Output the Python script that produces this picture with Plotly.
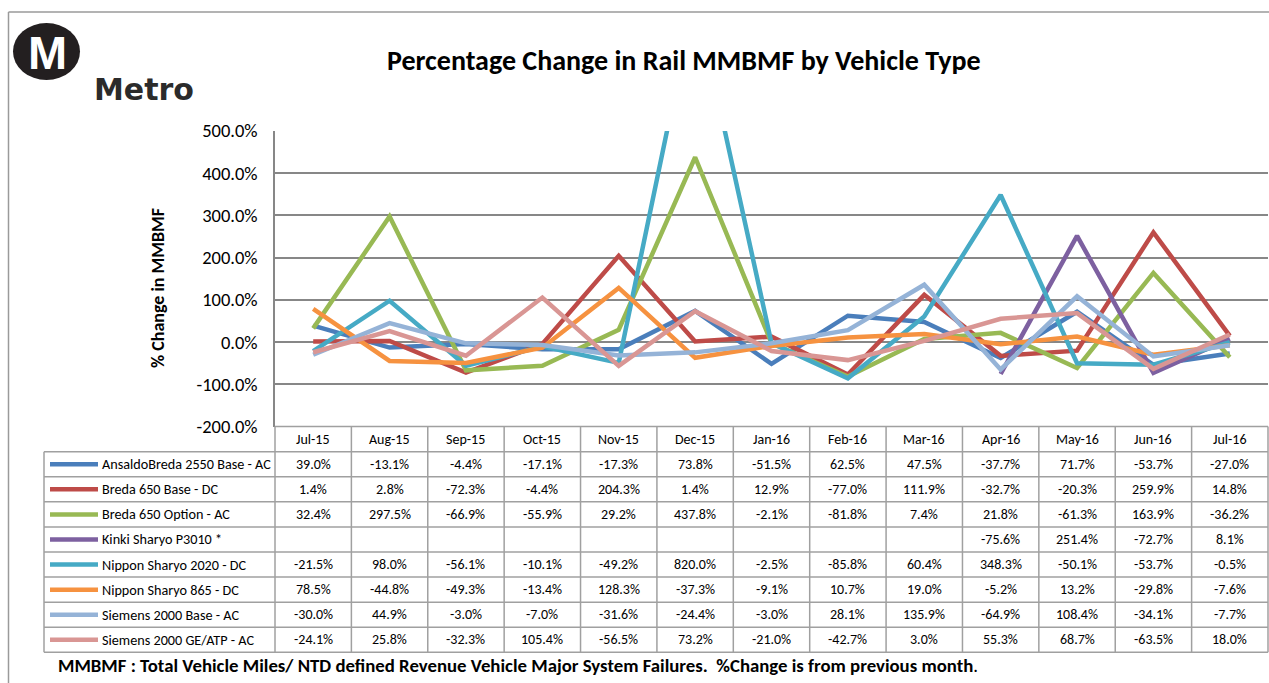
import plotly.graph_objects as go

# ---------------- data ----------------
months = ["Jul-15", "Aug-15", "Sep-15", "Oct-15", "Nov-15", "Dec-15", "Jan-16",
          "Feb-16", "Mar-16", "Apr-16", "May-16", "Jun-16", "Jul-16"]

series_names = ["AnsaldoBreda 2550 Base - AC", "Breda 650 Base - DC", "Breda 650 Option - AC",
                "Kinki Sharyo P3010 *", "Nippon Sharyo 2020 - DC", "Nippon Sharyo 865 - DC",
                "Siemens 2000 Base - AC", "Siemens 2000 GE/ATP - AC"]

ansaldo_2550 = [39.0, -13.1, -4.4, -17.1, -17.3, 73.8, -51.5, 62.5, 47.5, -37.7, 71.7, -53.7, -27.0]
breda_650_base = [1.4, 2.8, -72.3, -4.4, 204.3, 1.4, 12.9, -77.0, 111.9, -32.7, -20.3, 259.9, 14.8]
breda_650_option = [32.4, 297.5, -66.9, -55.9, 29.2, 437.8, -2.1, -81.8, 7.4, 21.8, -61.3, 163.9, -36.2]
kinki_p3010 = [None, None, None, None, None, None, None, None, None, -75.6, 251.4, -72.7, 8.1]
nippon_2020 = [-21.5, 98.0, -56.1, -10.1, -49.2, 820.0, -2.5, -85.8, 60.4, 348.3, -50.1, -53.7, -0.5]
nippon_865 = [78.5, -44.8, -49.3, -13.4, 128.3, -37.3, -9.1, 10.7, 19.0, -5.2, 13.2, -29.8, -7.6]
siemens_base = [-30.0, 44.9, -3.0, -7.0, -31.6, -24.4, -3.0, 28.1, 135.9, -64.9, 108.4, -34.1, -7.7]
siemens_ge_atp = [-24.1, 25.8, -32.3, 105.4, -56.5, 73.2, -21.0, -42.7, 3.0, 55.3, 68.7, -63.5, 18.0]

series_values = [ansaldo_2550, breda_650_base, breda_650_option, kinki_p3010,
                 nippon_2020, nippon_865, siemens_base, siemens_ge_atp]

y_ticks = [-200, -100, 0, 100, 200, 300, 400, 500]

# ---------------- styling ----------------
colors = ["#4A7EBB", "#BE4B48", "#98B954", "#7D60A0", "#46AAC5", "#F69240", "#95B3D7", "#D99694"]
FONT = "Carlito, Lato, sans-serif"
W, H = 1269, 683
GRID = "#878787"
TBL = "#A0A0A0"


def px(x):
    return x / W


def py(y):
    return 1 - y / H


PLOT_L, PLOT_R, PLOT_T, PLOT_B = 275, 1268, 131, 426.5
ROW_T, ROW_H = 451.7, 25.08
LEG_L = 44
ncol = len(months)
col_w = (PLOT_R - PLOT_L) / ncol

fig = go.Figure()
for name, vals, c in zip(series_names, series_values, colors):
    fig.add_trace(go.Scatter(x=months, y=vals, mode="lines", name=name,
                             line=dict(color=c, width=4.5), showlegend=False))

fig.update_layout(
    width=W, height=H,
    margin=dict(l=0, r=0, t=0, b=0),
    paper_bgcolor="white", plot_bgcolor="white",
    font=dict(family=FONT, color="#000000"),
    xaxis=dict(domain=[px(PLOT_L), px(PLOT_R)], range=[-0.5, ncol - 0.5],
               showticklabels=False, showgrid=False, zeroline=False, showline=False,
               type="category", fixedrange=True, automargin=False),
    yaxis=dict(domain=[py(PLOT_B), py(PLOT_T)], range=[-200, 500],
               tickvals=y_ticks, ticktext=[f"{v:.1f}%" for v in y_ticks],
               tickfont=dict(size=18.5, family=FONT, color="#000000"),
               showgrid=True, gridcolor=GRID, gridwidth=1.5, zeroline=False,
               showline=True, linecolor=GRID, linewidth=1.5, automargin=False,
               ticks="outside", ticklen=0, ticklabelstandoff=12, fixedrange=True),
)

shapes = []
annotations = []

# outer frame
shapes.append(dict(type="line", xref="paper", yref="paper", x0=px(8.5), x1=1, y0=py(12), y1=py(12),
                   line=dict(color="#9A9A9A", width=1.5)))
shapes.append(dict(type="line", xref="paper", yref="paper", x0=px(8.5), x1=px(8.5), y0=py(12), y1=0,
                   line=dict(color="#9A9A9A", width=1.5)))

# logo
shapes.append(dict(type="circle", xref="paper", yref="paper", x0=px(13), x1=px(80), y0=py(23), y1=py(80),
                   fillcolor="#231F20", line=dict(width=0)))
annotations.append(dict(text="<b>M</b>", x=px(47), y=py(52), xref="paper", yref="paper",
                        showarrow=False, xanchor="center", yanchor="middle",
                        font=dict(family="Liberation Sans", size=47, color="white")))
annotations.append(dict(text="<b>Metro</b>", x=px(92), y=py(89), xref="paper", yref="paper",
                        showarrow=False, xanchor="left", yanchor="middle",
                        font=dict(family="DejaVu Sans", size=30, color="#2B2B2B")))

# title
annotations.append(dict(text="<b>Percentage Change in Rail MMBMF by Vehicle Type</b>",
                        x=px(684), y=py(60), xref="paper", yref="paper", showarrow=False,
                        xanchor="center", yanchor="middle",
                        font=dict(family=FONT, size=28, color="#000000")))

# y-axis title
annotations.append(dict(text="<b>% Change in MMBMF</b>", x=px(158), y=py(288), xref="paper", yref="paper",
                        showarrow=False, textangle=-90, xanchor="center", yanchor="middle",
                        font=dict(family=FONT, size=18, color="#000000")))

# data table grid
nrows = len(series_names)
table_bottom = ROW_T + nrows * ROW_H
for i in range(ncol + 1):
    x = PLOT_L + i * col_w
    shapes.append(dict(type="line", xref="paper", yref="paper", x0=px(x), x1=px(x),
                       y0=py(PLOT_B), y1=py(table_bottom), line=dict(color=TBL, width=1.5)))
shapes.append(dict(type="line", xref="paper", yref="paper", x0=px(LEG_L), x1=px(LEG_L),
                   y0=py(ROW_T), y1=py(table_bottom), line=dict(color=TBL, width=1.5)))
shapes.append(dict(type="line", xref="paper", yref="paper", x0=px(PLOT_L), x1=px(PLOT_R),
                   y0=py(PLOT_B), y1=py(PLOT_B), line=dict(color=TBL, width=1.5)))
for r in range(nrows + 1):
    y = ROW_T + r * ROW_H
    shapes.append(dict(type="line", xref="paper", yref="paper", x0=px(LEG_L), x1=px(PLOT_R),
                       y0=py(y), y1=py(y), line=dict(color=TBL, width=1.5)))

# header labels
for i, m in enumerate(months):
    annotations.append(dict(text=m, x=px(PLOT_L + (i + 0.5) * col_w), y=py((PLOT_B + ROW_T) / 2),
                            xref="paper", yref="paper", showarrow=False,
                            xanchor="center", yanchor="middle",
                            font=dict(family=FONT, size=14, color="#000000")))

# rows
for r, (name, vals, c) in enumerate(zip(series_names, series_values, colors)):
    yc = ROW_T + (r + 0.5) * ROW_H
    shapes.append(dict(type="line", xref="paper", yref="paper", x0=px(50), x1=px(98),
                       y0=py(yc), y1=py(yc), line=dict(color=c, width=4.5)))
    annotations.append(dict(text=name, x=px(100), y=py(yc), xref="paper", yref="paper",
                            showarrow=False, xanchor="left", yanchor="middle",
                            font=dict(family=FONT, size=14.2, color="#000000")))
    for i, v in enumerate(vals):
        if v is None:
            continue
        annotations.append(dict(text=f"{v:.1f}%", x=px(PLOT_L + (i + 0.5) * col_w), y=py(yc),
                                xref="paper", yref="paper", showarrow=False,
                                xanchor="center", yanchor="middle",
                                font=dict(family=FONT, size=14, color="#000000")))

# footnote
annotations.append(dict(text="<b>MMBMF : Total Vehicle Miles/ NTD defined Revenue Vehicle Major System Failures.  %Change is from previous month</b>.",
                        x=px(56), y=py(665), xref="paper", yref="paper", showarrow=False,
                        xanchor="left", yanchor="middle",
                        font=dict(family=FONT, size=18.8, color="#000000")))

fig.update_layout(shapes=shapes, annotations=annotations)

fig.write_html("out.html", config={"displayModeBar": False},
               post_script="document.body.style.margin='0';document.body.style.overflow='hidden';")
